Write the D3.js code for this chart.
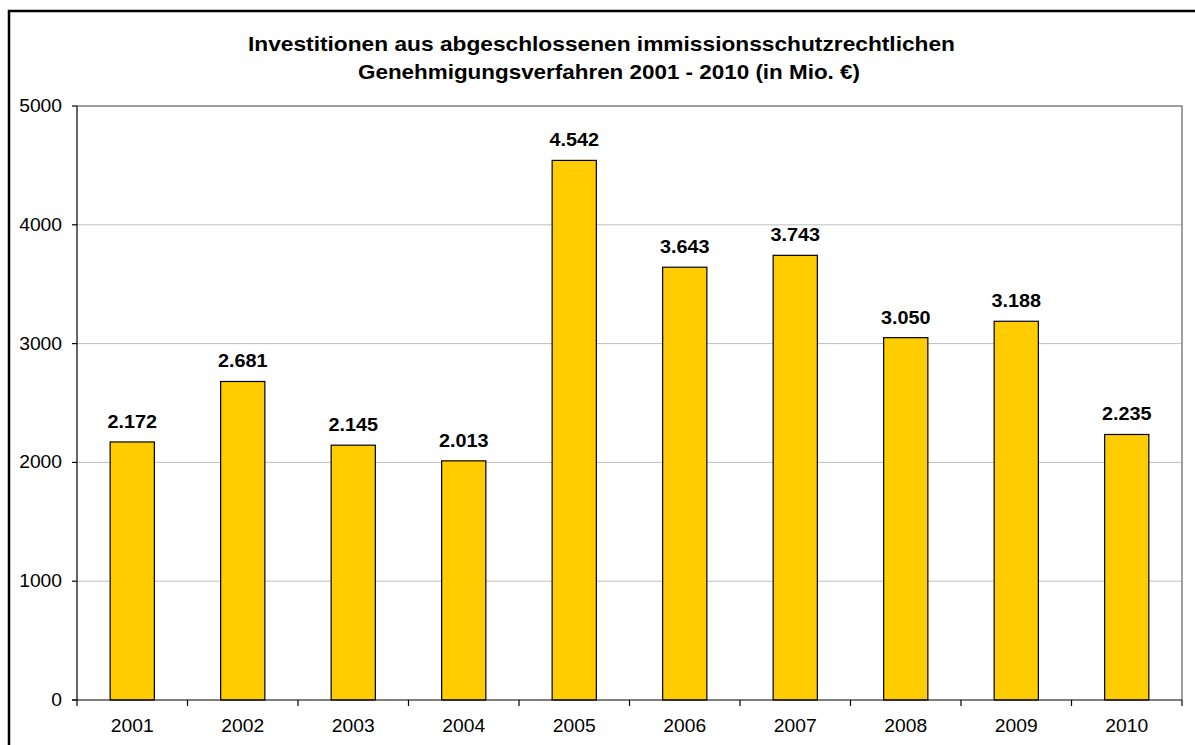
<!DOCTYPE html>
<html><head><meta charset="utf-8">
<script src="https://cdn.jsdelivr.net/npm/d3@7"></script>
<style>body{margin:0;background:#fff;}svg{display:block;font-family:"Liberation Sans",Arial,sans-serif;}</style>
</head><body>
<svg id="c" width="1195" height="745"></svg>
<script>
const categories = ["2001","2002","2003","2004","2005","2006","2007","2008","2009","2010"];
const values = [2172,2681,2145,2013,4542,3643,3743,3050,3188,2235];
const labels = ["2.172","2.681","2.145","2.013","4.542","3.643","3.743","3.050","3.188","2.235"];
const yTicks = [0,1000,2000,3000,4000,5000];
const titleLines = ["Investitionen aus abgeschlossenen immissionsschutzrechtlichen","Genehmigungsverfahren 2001 - 2010 (in Mio. €)"];
const titleWidths = [707,502];

const svg = d3.select("#c");
const L=77,R=1182,T=106,B=700;
const x = d3.scaleBand().domain(categories).range([L,R]).paddingInner(0.6).paddingOuter(0.3);
const y = d3.scaleLinear().domain([0,5000]).range([B,T]);
const SX = 1.1; // horizontal stretch of text

svg.append("rect").attr("x",9).attr("y",11).attr("width",1200).attr("height",760)
  .attr("fill","none").attr("stroke","#000").attr("stroke-width",2.5);

svg.append("g").selectAll("text").data(titleLines).join("text")
  .attr("x",(d,i)=>i===0?601.5:609).attr("y",(d,i)=>51+i*28).attr("text-anchor","middle")
  .attr("font-weight","bold").attr("font-size",20.5).attr("fill","#000")
  .attr("textLength",(d,i)=>titleWidths[i]).attr("lengthAdjust","spacingAndGlyphs").text(d=>d);

svg.append("g").selectAll("line").data(yTicks.filter(t=>t>0&&t<5000)).join("line")
  .attr("x1",L).attr("x2",R).attr("y1",d=>y(d)).attr("y2",d=>y(d))
  .attr("stroke","#c0c0c0").attr("stroke-width",1);

svg.append("path").attr("d",`M${L},${T}H${R}V${B}`).attr("fill","none")
  .attr("stroke","#808080").attr("stroke-width",1.5);

svg.append("g").selectAll("rect").data(values).join("rect")
  .attr("x",(d,i)=>x(categories[i])).attr("width",x.bandwidth())
  .attr("y",d=>y(d)).attr("height",d=>B-y(d))
  .attr("fill","#FFCC00").attr("stroke","#000").attr("stroke-width",1.2);

function stretched(sel, cx, cy){
  return sel.attr("transform",`translate(${cx},${cy}) scale(${SX},1)`);
}
svg.append("g").selectAll("text").data(values).join("text")
  .each(function(d,i){ stretched(d3.select(this), x(categories[i])+x.bandwidth()/2, y(d)-14); })
  .attr("text-anchor","middle").attr("font-weight","bold").attr("font-size",18)
  .attr("fill","#000").text((d,i)=>labels[i]);

// y axis
const gy = svg.append("g").attr("transform",`translate(${L},0)`);
gy.append("line").attr("x1",0).attr("x2",0).attr("y1",T).attr("y2",B).attr("stroke","#000").attr("stroke-width",1.2);
gy.selectAll("line.t").data(yTicks).join("line").attr("class","t")
  .attr("x1",-5).attr("x2",0).attr("y1",d=>y(d)).attr("y2",d=>y(d)).attr("stroke","#000").attr("stroke-width",1.2);
gy.selectAll("text").data(yTicks).join("text")
  .each(function(d){ stretched(d3.select(this), -15, y(d)+6); })
  .attr("text-anchor","end").attr("font-size",17.5).attr("fill","#000").text(d=>d3.format("d")(d));

// x axis
svg.append("line").attr("x1",L-5).attr("x2",R).attr("y1",B).attr("y2",B).attr("stroke","#000").attr("stroke-width",1.2);
svg.append("g").selectAll("line").data(d3.range(categories.length+1)).join("line")
  .attr("x1",i=>L+i*x.step()).attr("x2",i=>L+i*x.step())
  .attr("y1",B).attr("y2",B+6).attr("stroke","#000").attr("stroke-width",1.2);
svg.append("g").selectAll("text").data(categories).join("text")
  .each(function(d){ stretched(d3.select(this), x(d)+x.bandwidth()/2, 732); })
  .attr("text-anchor","middle").attr("font-size",17.5).attr("fill","#000").text(d=>d);
</script>
</body></html>
